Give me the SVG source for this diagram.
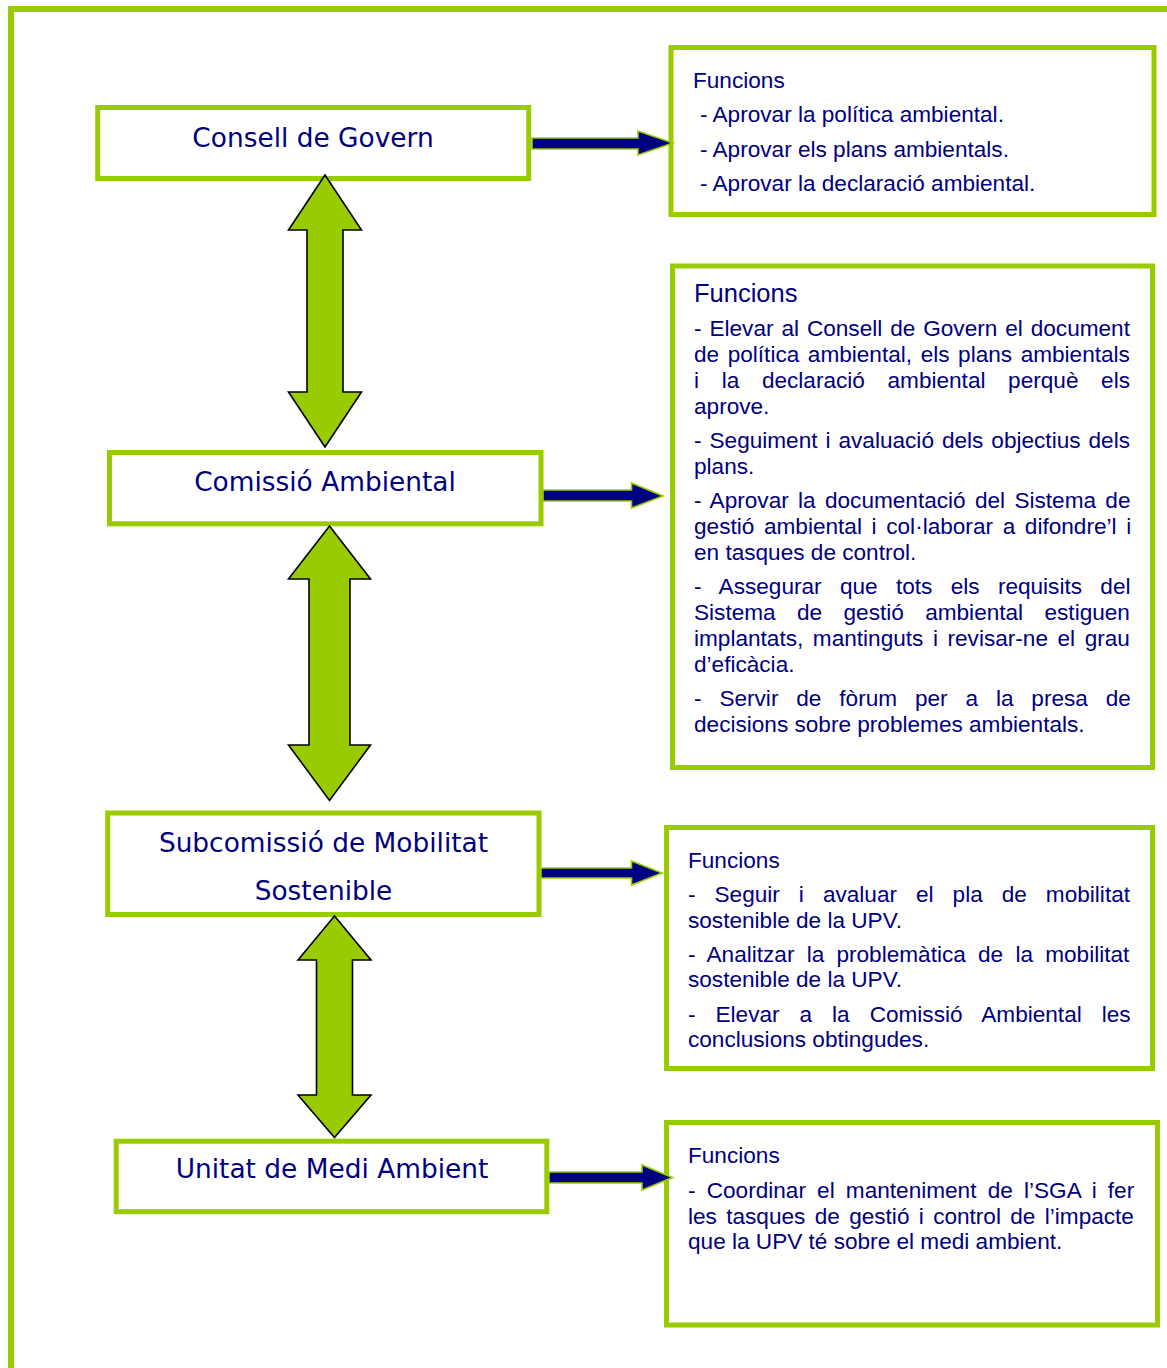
<svg xmlns="http://www.w3.org/2000/svg" width="1167" height="1368" viewBox="0 0 1167 1368">
<style>
.box{fill:#fff;stroke:#99CC00;stroke-width:5}
.ttl{font-family:"DejaVu Sans",Verdana,sans-serif;font-size:26.4px;fill:#000080;text-anchor:middle}
.tx{font-family:"Liberation Sans",Arial,sans-serif;font-size:22.6px;fill:#000080}
.fn2{font-size:25.5px}
.dbl{fill:#99CC00;stroke:#000;stroke-width:1.6;stroke-linejoin:miter}
.blu{fill:#000080;stroke:#99CC00;stroke-width:1.6}
</style>
<rect width="1167" height="1368" fill="#fff"/>
<path d="M11,1368 V9 H1167" fill="none" stroke="#99CC00" stroke-width="6"/>

<g id="consell">
<rect class="box" x="97.7" y="107.5" width="431" height="71"/>
<text class="ttl" x="313" y="146.5">Consell de Govern</text>
</g>
<g id="comissio">
<rect class="box" x="109.5" y="452.5" width="431.5" height="71.3"/>
<text class="ttl" x="325" y="491">Comissió Ambiental</text>
</g>
<g id="subcomissio">
<rect class="box" x="107.7" y="813" width="431.3" height="101.5"/>
<text class="ttl" x="323.5" y="851.5">Subcomissió de Mobilitat</text>
<text class="ttl" x="323.5" y="900">Sostenible</text>
</g>
<g id="unitat">
<rect class="box" x="116.2" y="1141.2" width="430.6" height="70.5"/>
<text class="ttl" x="332" y="1178">Unitat de Medi Ambient</text>
</g>

<g id="funcions-consell">
<rect class="box" x="671" y="47.5" width="483" height="167"/>
<text class="tx" x="693" y="88">Funcions</text>
<text class="tx" x="700" y="121.7">- Aprovar la política ambiental.</text>
<text class="tx" x="700" y="157">- Aprovar els plans ambientals.</text>
<text class="tx" x="700" y="191">- Aprovar la declaració ambiental.</text>
</g>

<g id="funcions-comissio">
<rect class="box" x="672.5" y="266" width="480" height="501.5"/>
<text class="tx fn2" x="694" y="301.7">Funcions</text>
<text class="tx" x="694" y="336" word-spacing="1.64">- Elevar al Consell de Govern el document</text>
<text class="tx" x="694" y="362" word-spacing="2.28">de política ambiental, els plans ambientals</text>
<text class="tx" x="694" y="388" word-spacing="16.36">i la declaració ambiental perquè els</text>
<text class="tx" x="694" y="414">aprove.</text>
<text class="tx" x="694" y="448" word-spacing="1.7">- Seguiment i avaluació dels objectius dels</text>
<text class="tx" x="694" y="474">plans.</text>
<text class="tx" x="694" y="508" word-spacing="3.05">- Aprovar la documentació del Sistema de</text>
<text class="tx" x="694" y="534" word-spacing="3.38">gestió ambiental i col·laborar a difondre’l i</text>
<text class="tx" x="694" y="560">en tasques de control.</text>
<text class="tx" x="694" y="594" word-spacing="12.05">- Assegurar que tots els requisits del</text>
<text class="tx" x="694" y="620" word-spacing="15.1">Sistema de gestió ambiental estiguen</text>
<text class="tx" x="694" y="646" word-spacing="3.3">implantats, mantinguts i revisar-ne el grau</text>
<text class="tx" x="694" y="672">d’eficàcia.</text>
<text class="tx" x="694" y="706" word-spacing="11.6">- Servir de fòrum per a la presa de</text>
<text class="tx" x="694" y="732">decisions sobre problemes ambientals.</text>
</g>

<g id="funcions-subcomissio">
<rect class="box" x="666.5" y="827.5" width="486" height="241"/>
<text class="tx" x="688" y="868">Funcions</text>
<text class="tx" x="688" y="902" word-spacing="12.73">- Seguir i avaluar el pla de mobilitat</text>
<text class="tx" x="688" y="928">sostenible de la UPV.</text>
<text class="tx" x="688" y="962" word-spacing="5.95">- Analitzar la problemàtica de la mobilitat</text>
<text class="tx" x="688" y="987">sostenible de la UPV.</text>
<text class="tx" x="688" y="1022" word-spacing="13.7">- Elevar a la Comissió Ambiental les</text>
<text class="tx" x="688" y="1047">conclusions obtingudes.</text>
</g>

<g id="funcions-unitat">
<rect class="box" x="666.5" y="1122.5" width="491" height="202.5"/>
<text class="tx" x="688" y="1163">Funcions</text>
<text class="tx" x="688" y="1198" word-spacing="4.9">- Coordinar el manteniment de l’SGA i fer</text>
<text class="tx" x="688" y="1223.5" word-spacing="3.06">les tasques de gestió i control de l’impacte</text>
<text class="tx" x="688" y="1249">que la UPV té sobre el medi ambient.</text>
</g>

<g id="connectors">
<path class="blu" d="M532,138 H638 V131 L673,143 L638,155 V149 H532 Z"/>
<path class="blu" d="M543,490 H631.5 V483 L663,496 L631.5,508 V501 H543 Z"/>
<path class="blu" d="M541,868 H631.5 V861 L662,873 L631.5,885 V878 H541 Z"/>
<path class="blu" d="M549,1172 H642 V1165 L672.5,1177.5 L642,1190 V1183 H549 Z"/>
<path class="dbl" d="M325,175 L361.5,230 H343 V392 H361.5 L325,447 L288.5,392 H307 V230 H288.5 Z"/>
<path class="dbl" d="M329.5,526 L370.5,579 H350 V745 H370.5 L329.5,800.5 L288.5,745 H309 V579 H288.5 Z"/>
<path class="dbl" d="M334.5,916 L371,960 H352.5 V1095 H371 L334.5,1137.5 L298,1095 H316.5 V960 H298 Z"/>
</g>
</svg>
